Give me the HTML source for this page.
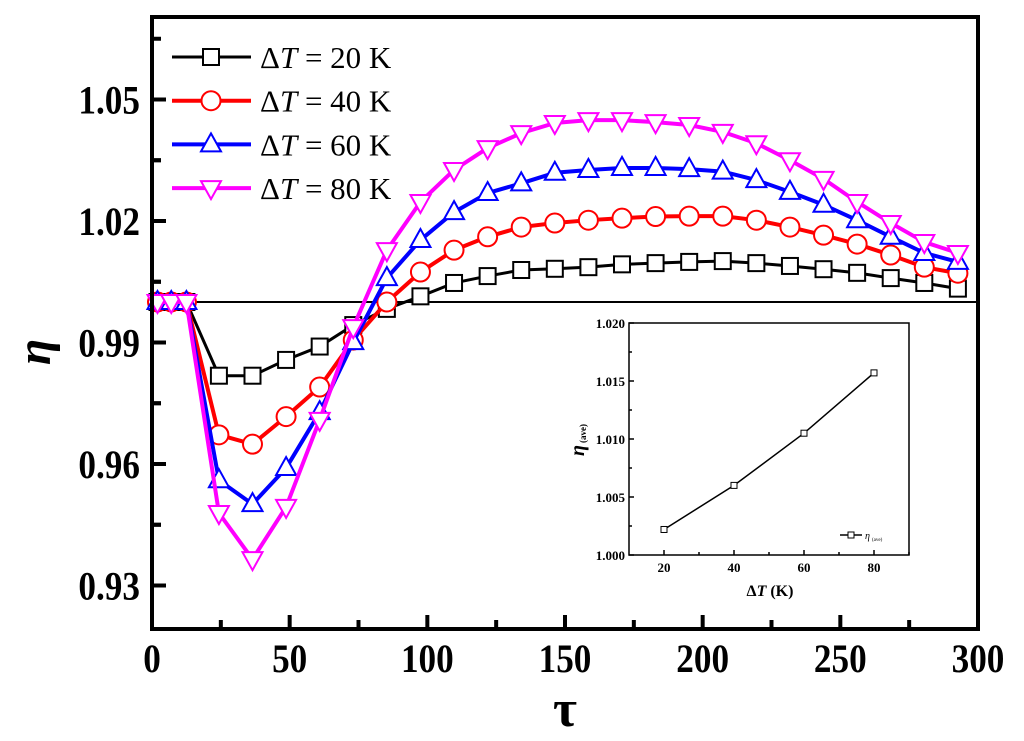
<!DOCTYPE html>
<html><head><meta charset="utf-8"><style>
html,body{margin:0;padding:0;background:#fff;}
svg{display:block;font-family:"Liberation Serif",serif;}
</style></head><body>
<svg id="chart" width="1024" height="741" viewBox="0 0 1024 741" xmlns="http://www.w3.org/2000/svg">
<rect width="1024" height="741" fill="#fff"/>
<g id="main"></g>
<g id="inset"></g>
</svg>
<script>
const tau = [2,7,12.5,24.3,36.5,48.7,60.9,73.1,85.3,97.5,109.7,121.9,134.1,146.3,158.5,170.7,182.9,195.1,207.3,219.5,231.7,243.9,256.1,268.3,280.5,292.7];
const eta20 = [1,1,1,0.9818,0.9818,0.9857,0.9890,0.9943,0.9983,1.0014,1.0047,1.0064,1.0079,1.0082,1.0086,1.0093,1.0096,1.0099,1.0101,1.0096,1.0089,1.0081,1.0072,1.0059,1.0047,1.0033];
const eta40 = [1,1,1,0.9672,0.9649,0.9717,0.9790,0.9906,1.0000,1.0074,1.0128,1.0161,1.0185,1.0195,1.0202,1.0207,1.0211,1.0212,1.0212,1.0202,1.0185,1.0165,1.0143,1.0116,1.0086,1.0071];
const eta60 = [1,1,1,0.9560,0.9501,0.9590,0.9728,0.9901,1.0059,1.0153,1.0222,1.0269,1.0293,1.0319,1.0326,1.0331,1.0331,1.0328,1.0322,1.0301,1.0272,1.0240,1.0202,1.0161,1.0121,1.0099];
const eta80 = [1,1,1,0.9479,0.9365,0.9494,0.9709,0.9938,1.0128,1.0247,1.0326,1.0380,1.0417,1.0442,1.0449,1.0449,1.0444,1.0437,1.0420,1.0392,1.0350,1.0304,1.0247,1.0195,1.0148,1.0121];
const xTicks = [0,50,100,150,200,250,300];
const yTicks = [0.93,0.96,0.99,1.02,1.05];
const legendLabels = ["20","40","60","80"];
const insetDT = [20,40,60,80];
const insetEta = [1.0022,1.0060,1.0105,1.0157];
const insetXTicks = [20,40,60,80];
const insetYTicks = [1.000,1.005,1.010,1.015,1.020];

const NS="http://www.w3.org/2000/svg";
function mk(tag, attrs, parent){const e=document.createElementNS(NS,tag);for(const k in attrs)e.setAttribute(k,attrs[k]);parent.appendChild(e);return e;}
const main=document.getElementById('main');
const L=152,R=978,T=17,B=629;
const xS=v=>L+(v-0)/300*(R-L);
const yS=v=>302-(v-1)*4050;

// reference line
let e=mk('line',{x1:L,x2:R,y1:yS(1),y2:yS(1),stroke:'#000','stroke-width':2},main);



const series=[
 {d:eta20,c:'#000',w:3,m:'sq',n:'series-dt-20'},
 {d:eta40,c:'#ff0000',w:4,m:'ci',n:'series-dt-40'},
 {d:eta60,c:'#0000ff',w:4,m:'up',n:'series-dt-60'},
 {d:eta80,c:'#ff00ff',w:4,m:'dn',n:'series-dt-80'}];
function marker(g,type,x,y,c,s){
  let el;
  if(type==='sq') el=mk('rect',{x:x-8,y:y-8,width:16,height:16,fill:'#fff',stroke:c,'stroke-width':2*s},g);
  else if(type==='ci') el=mk('circle',{cx:x,cy:y,r:9.5,fill:'#fff',stroke:c,'stroke-width':2},g);
  else if(type==='up') el=mk('polygon',{points:`${x},${y-11} ${x-10},${y+7} ${x+10},${y+7}`,fill:'#fff',stroke:c,'stroke-width':2},g);
  else el=mk('polygon',{points:`${x},${y+11} ${x-10},${y-7} ${x+10},${y-7}`,fill:'#fff',stroke:c,'stroke-width':2},g);
  return el;
}
series.forEach(s=>{
  const g=mk('g',{},main);
  
  
  const p=mk('polyline',{points:tau.map((t,i)=>xS(t)+','+yS(s.d[i])).join(' '),fill:'none',stroke:s.c,'stroke-width':s.w,'stroke-linejoin':'round'},g);
  
  
  tau.forEach((t,i)=>{
    const m=marker(g,s.m,xS(t),yS(s.d[i]),s.c,1);
    
    
  });
});

// frame
e=mk('rect',{x:L,y:T,width:R-L,height:B-T,fill:'none',stroke:'#000','stroke-width':4},main);


// x ticks
xTicks.forEach(v=>{
  let t=mk('line',{x1:xS(v),x2:xS(v),y1:B,y2:B-14,stroke:'#000','stroke-width':4},main);
  
  
  if(v<300){t=mk('line',{x1:xS(v+25),x2:xS(v+25),y1:B,y2:B-9,stroke:'#000','stroke-width':4},main);
  
  }
  const lb=mk('text',{x:xS(v),y:672,'text-anchor':'middle','font-size':40,'font-weight':'bold',transform:`translate(${xS(v)*0.12},0) scale(0.88,1)`},main);
  lb.textContent=v;
  
  
});
yTicks.forEach(v=>{
  let t=mk('line',{x1:L,x2:L+14,y1:yS(v),y2:yS(v),stroke:'#000','stroke-width':4},main);
  
  
  [v-0.015,v+0.015].forEach(mv=>{ if(yS(mv)>T+5&&yS(mv)<B-5){
    const mt=mk('line',{x1:L,x2:L+9,y1:yS(mv),y2:yS(mv),stroke:'#000','stroke-width':4},main);
    
    }});
  const lb=mk('text',{x:140,y:yS(v)+14,'text-anchor':'end','font-size':40,'font-weight':'bold',transform:`translate(${140*0.12},0) scale(0.88,1)`},main);
  lb.textContent=v.toFixed(2);
  
  
});
e=mk('text',{x:565,y:726,'text-anchor':'middle','font-size':52,'font-weight':'bold'},main);
e.textContent='τ';


e=mk('text',{x:0,y:0,'text-anchor':'middle','font-size':48,'font-weight':'bold','font-style':'italic',transform:'translate(50,352) rotate(-90)'},main);
e.textContent='η';



// legend
series.forEach((s,i)=>{
  const y=57+i*43.7;
  const g=mk('g',{},main);
  
  
  mk('line',{x1:172,x2:251,y1:y,y2:y,stroke:s.c,'stroke-width':s.w},g);
  marker(g,s.m,211,y,s.c,1);
  const tx=mk('text',{x:260,y:y+11,'font-size':31},g);
  tx.innerHTML='Δ<tspan font-style="italic">T</tspan> = '+legendLabels[i]+' K';
});

// inset
const ins=document.getElementById('inset');


const iL=629,iR=909,iT=323,iB=555;
const ixS=v=>iL+(v-10)/80*(iR-iL);
const iyS=v=>iB-(v-1.0)/0.02*(iB-iT);
e=mk('polyline',{points:insetDT.map((d,i)=>ixS(d)+','+iyS(insetEta[i])).join(' '),fill:'none',stroke:'#000','stroke-width':1.5},ins);


insetDT.forEach((d,i)=>{
  const m=mk('rect',{x:ixS(d)-3,y:iyS(insetEta[i])-3,width:6,height:6,fill:'#fff',stroke:'#000','stroke-width':1},ins);
  
  
});
e=mk('rect',{x:iL,y:iT,width:iR-iL,height:iB-iT,fill:'none',stroke:'#000','stroke-width':1.5},ins);


insetXTicks.forEach(v=>{
  let t=mk('line',{x1:ixS(v),x2:ixS(v),y1:iB,y2:iB-5,stroke:'#000','stroke-width':1.5},ins);
  
  
  t=mk('line',{x1:ixS(v+10),x2:ixS(v+10),y1:iB,y2:iB-3,stroke:'#000','stroke-width':1.5},ins);
  
  
  const lb=mk('text',{x:ixS(v),y:572,'text-anchor':'middle','font-size':13,'font-weight':'bold'},ins);
  lb.textContent=v;
  
  
});
insetYTicks.forEach(v=>{
  let t=mk('line',{x1:iL,x2:iL+5,y1:iyS(v),y2:iyS(v),stroke:'#000','stroke-width':1.5},ins);
  
  
  if(v<1.02){t=mk('line',{x1:iL,x2:iL+3,y1:iyS(v+0.0025),y2:iyS(v+0.0025),stroke:'#000','stroke-width':1.5},ins);
  
  }
  const lb=mk('text',{x:625,y:iyS(v)+5,'text-anchor':'end','font-size':13,'font-weight':'bold'},ins);
  lb.textContent=v.toFixed(3);
  
  
});
e=mk('text',{x:770,y:596,'text-anchor':'middle','font-size':16,'font-weight':'bold'},ins);
e.innerHTML='Δ<tspan font-style="italic">T</tspan> (K)';


e=mk('text',{x:0,y:0,'text-anchor':'middle','font-size':20,'font-weight':'bold',transform:'translate(584,440) rotate(-90)'},ins);
e.innerHTML='<tspan font-style="italic">η</tspan><tspan font-size="9" dx="2" dy="2">(ave)</tspan>';


const lg=mk('g',{},ins);


mk('line',{x1:840,x2:862,y1:535,y2:535,stroke:'#000','stroke-width':1.5},lg);
mk('rect',{x:848,y:532,width:6,height:6,fill:'#fff',stroke:'#000','stroke-width':1},lg);
e=mk('text',{x:865,y:539,'font-size':10,'font-style':'italic'},lg);
e.innerHTML='η<tspan font-size="5" font-style="normal" dx="2" dy="2">(ave)</tspan>';
</script>
</body></html>
